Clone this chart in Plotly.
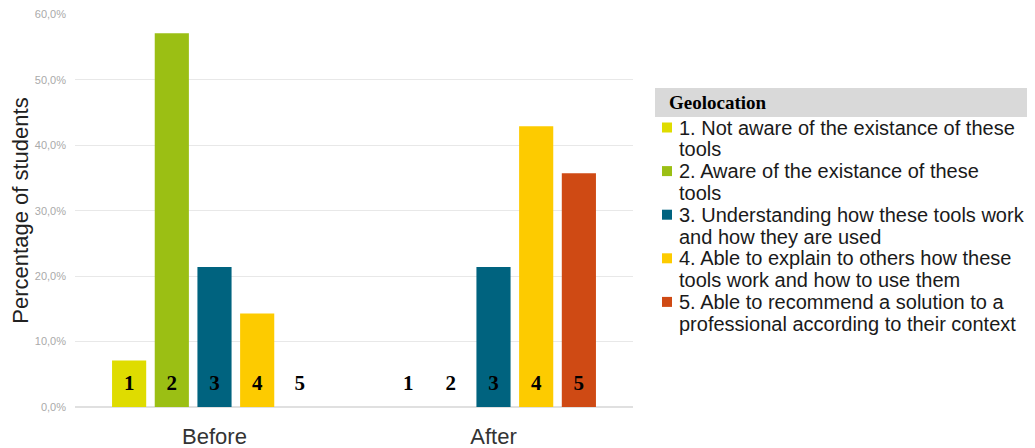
import plotly.graph_objects as go

categories = ["Before", "After"]
legend_title = "Geolocation"
level_names = [
    ["1. Not aware of the existance of these", "tools"],
    ["2. Aware of the existance of these", "tools"],
    ["3. Understanding how these tools work", "and how they are used"],
    ["4. Able to explain to others how these", "tools work and how to use them"],
    ["5. Able to recommend a solution to a", "professional according to their context"],
]
level_labels = ["1", "2", "3", "4", "5"]
level1 = [7.1, 0.0]
level2 = [57.1, 0.0]
level3 = [21.4, 21.4]
level4 = [14.3, 42.9]
level5 = [0.0, 35.7]
series = [level1, level2, level3, level4, level5]
colors = ["#dfdc00", "#9bbf14", "#00637f", "#fdcb00", "#cf4a14"]
label_y = 3.4
y_ticks = [0, 10, 20, 30, 40, 50, 60]
y_ticktext = ["0,0%", "10,0%", "20,0%", "30,0%", "40,0%", "50,0%", "60,0%"]

# figure geometry (the page adds an 8px body margin)
W, H = 1027, 440
ML, MR, MT, MB = 67, 402, 6, 41
PW, PH = W - ML - MR, H - MT - MB


def px_to_paper(x, y):
    return (x - ML) / PW, (H - MB - y) / PH


fig = go.Figure()
for i, vals in enumerate(series):
    fig.add_trace(go.Bar(
        x=categories, y=vals, name=" ".join(level_names[i]),
        marker=dict(color=colors[i], line=dict(width=0)),
        offsetgroup=str(i), showlegend=False,
    ))
for i, vals in enumerate(series):
    fig.add_trace(go.Scatter(
        x=categories, y=[label_y] * len(categories), mode="text",
        text=["<b>%s</b>" % level_labels[i]] * len(categories),
        textfont=dict(family="Liberation Serif, Times New Roman, serif", size=21, color="black"),
        textposition="middle center",
        offsetgroup=str(i), showlegend=False, hoverinfo="skip",
    ))

fig.update_layout(
    width=W, height=H,
    margin=dict(l=ML, r=MR, t=MT, b=MB, autoexpand=False),
    paper_bgcolor="white", plot_bgcolor="white",
    barmode="group", bargap=0.235, bargroupgap=0.2,
    scattermode="group", scattergap=0.235,
    showlegend=False,
    xaxis=dict(
        tickfont=dict(family="Liberation Sans, Arial, sans-serif", size=22, color="#333"),
        showgrid=False, showline=False, ticks="", ticklabelstandoff=14,
        automargin=False,
    ),
    yaxis=dict(
        range=[0, 60.05], tickvals=y_ticks, ticktext=y_ticktext,
        ticklabelstandoff=8, automargin=False,
        tickfont=dict(family="Liberation Sans, Arial, sans-serif", size=11, color="#aaaaaa"),
        gridcolor="#e8e8e8", gridwidth=1, zeroline=True, zerolinecolor="#e0e0e0",
        title=dict(text="Percentage of students",
                   font=dict(family="Liberation Sans, Arial, sans-serif", size=22, color="#222"),
                   standoff=0),
    ),
)

# legend: title band
x0, y0 = px_to_paper(647, 80)
x1, y1 = px_to_paper(1027, 109)
fig.add_shape(type="rect", xref="paper", yref="paper", x0=x0, x1=x1, y0=y1, y1=y0,
              fillcolor="#d9d9d9", line=dict(width=0), layer="below")
tx, ty = px_to_paper(659, 94.5)
fig.add_annotation(xref="paper", yref="paper", x=tx, y=ty,
                   xanchor="left", yanchor="middle", showarrow=False,
                   text="<b>%s</b>" % legend_title,
                   font=dict(family="Liberation Serif, Times New Roman, serif", size=19, color="black"))

# legend entries
line_step = 21.8
first_line = 119.5
for i, lines in enumerate(level_names):
    for j, line in enumerate(lines):
        cy = first_line + (2 * i + j) * line_step
        ax, ay = px_to_paper(669, cy)
        fig.add_annotation(xref="paper", yref="paper", x=ax, y=ay,
                           xanchor="left", yanchor="middle", showarrow=False,
                           text=line,
                           font=dict(family="Liberation Sans, Arial, sans-serif", size=20, color="#1a1a1a"))
    cy = first_line + 2 * i * line_step
    sx0, sy0 = px_to_paper(654, cy - 5)
    sx1, sy1 = px_to_paper(664, cy + 5)
    fig.add_shape(type="rect", xref="paper", yref="paper", x0=sx0, x1=sx1, y0=sy1, y1=sy0,
                  fillcolor=colors[i], line=dict(width=0))

fig.write_html("out.html")
